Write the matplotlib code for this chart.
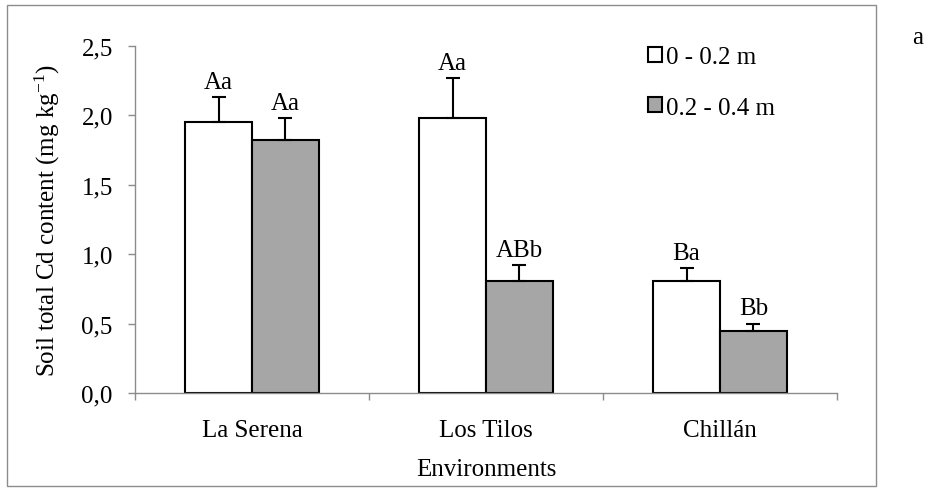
import matplotlib
matplotlib.use("Agg")
import matplotlib.pyplot as plt
from matplotlib.patches import Rectangle
import numpy as np

plt.rcParams['font.family'] = ['Liberation Serif', 'DejaVu Serif']
plt.rcParams['mathtext.default'] = 'regular'

categories = ["La Serena", "Los Tilos", "Chillán"]
series_names = ["0 - 0.2 m", "0.2 - 0.4 m"]
values_top = [1.95, 1.98, 0.81]
values_sub = [1.82, 0.81, 0.45]
err_top = [0.18, 0.29, 0.09]
err_sub = [0.16, 0.11, 0.05]
labels_top = ["Aa", "Aa", "Ba"]
labels_sub = ["Aa", "ABb", "Bb"]
ytick_vals = [0.0, 0.5, 1.0, 1.5, 2.0, 2.5]
ytick_labels = ["0,0", "0,5", "1,0", "1,5", "2,0", "2,5"]

W, H = 932, 489
fig = plt.figure(figsize=(W / 100, H / 100), dpi=100)
ax = fig.add_axes([135 / W, 1 - 394 / H, (837 - 135) / W, (394 - 47) / H])

x = np.arange(len(categories))
bw = 1 / 3.5
axis_col = '#8c8c8c'
fs = 18

for vals, errs, labs, off, col, name in [
    (values_top, err_top, labels_top, -bw / 2, 'white', series_names[0]),
    (values_sub, err_sub, labels_sub, bw / 2, '#a6a6a6', series_names[1]),
]:
    ax.bar(x + off, vals, width=bw, color=col, edgecolor='black', linewidth=1.5,
           label=name, zorder=2)
    ax.errorbar(x + off, vals, yerr=[np.zeros(len(errs)), errs], fmt='none',
                ecolor='black', elinewidth=1.5, capsize=5, capthick=1.5, zorder=3)
    for xi, v, e, lab in zip(x + off, vals, errs, labs):
        ax.annotate(lab, (xi, v + e), xytext=(0, 3), textcoords='offset points',
                    ha='center', va='bottom', fontsize=fs)

ax.set_xlim(-0.5, 2.5)
ax.set_ylim(0, 2.5)
ax.set_yticks(ytick_vals)
ax.set_yticklabels(ytick_labels, fontsize=fs)
ax.set_xticks(x)
ax.set_xticklabels(categories, fontsize=fs)
ax.tick_params(axis='x', length=0, pad=19)
ax.set_xticks([-0.5, 0.5, 1.5, 2.5], minor=True)
ax.tick_params(axis='x', which='minor', length=5, color=axis_col, width=1)
ax.tick_params(axis='y', length=5, color=axis_col, width=1, pad=11)
for s in ['top', 'right']:
    ax.spines[s].set_visible(False)
for s in ['left', 'bottom']:
    ax.spines[s].set_color(axis_col)
    ax.spines[s].set_linewidth(1)

ax.set_xlabel("Environments", fontsize=fs, labelpad=12)
ax.set_ylabel("Soil total Cd content (mg kg$^{-1}$)", fontsize=fs, labelpad=14)

leg = ax.legend(loc='upper left', bbox_to_anchor=(648 / W, 1 - 47 / H),
                bbox_transform=fig.transFigure, frameon=False, fontsize=fs,
                handlelength=0.55, handleheight=0.55, handletextpad=0.15,
                labelspacing=1.15, borderaxespad=0, borderpad=0)

fig.text(912 / W, 1 - 38 / H, "a", fontsize=fs, ha='left', va='center')

fig.patches.append(Rectangle((7 / W, 1 - 487 / H), 869 / W, 481 / H,
                             transform=fig.transFigure, fill=False,
                             edgecolor='#8c8c8c', linewidth=1))

fig.savefig("out.png", dpi=100)
